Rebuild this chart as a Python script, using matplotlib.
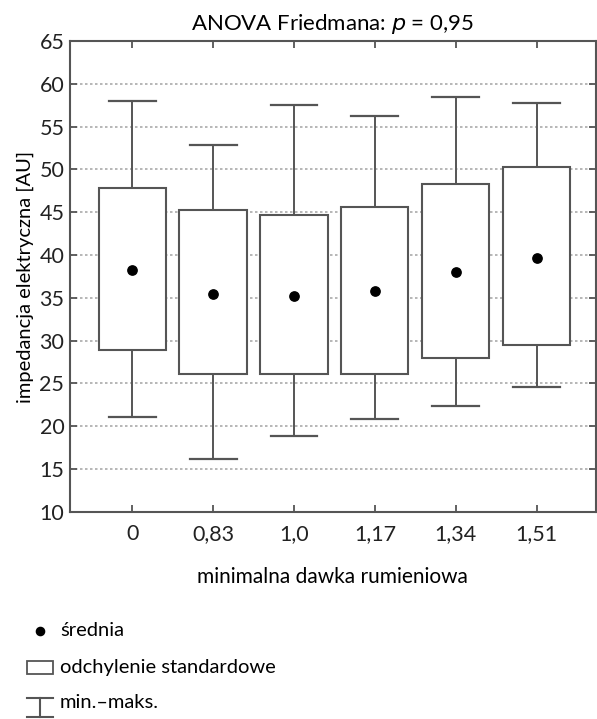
import matplotlib
matplotlib.use("Agg")
import matplotlib.pyplot as plt
from matplotlib.patches import Rectangle

plt.rcParams["font.family"] = ["Lato", "DejaVu Sans"]

# data
doses = ["0", "0,83", "1,0", "1,17", "1,34", "1,51"]
means = [38.2, 35.5, 35.2, 35.8, 38.0, 39.7]
sd_low = [28.9, 26.1, 26.1, 26.1, 28.0, 29.5]
sd_high = [47.8, 45.3, 44.7, 45.6, 48.3, 50.3]
mins = [21.1, 16.2, 18.9, 20.8, 22.4, 24.6]
maxs = [58.0, 52.8, 57.5, 56.2, 58.5, 57.7]

line_col = "#555555"
box_w = 0.83
cap_w = 0.58

fig = plt.figure(figsize=(5.97, 7.19), dpi=100)
ax = fig.add_axes([0.117, 0.288, 0.881, 0.655])

for i in range(len(doses)):
    # whiskers
    ax.plot([i, i], [sd_high[i], maxs[i]], color=line_col, lw=1.4, zorder=2)
    ax.plot([i, i], [mins[i], sd_low[i]], color=line_col, lw=1.4, zorder=2)
    ax.plot([i - cap_w / 2, i + cap_w / 2], [maxs[i], maxs[i]], color=line_col, lw=1.6, zorder=2)
    ax.plot([i - cap_w / 2, i + cap_w / 2], [mins[i], mins[i]], color=line_col, lw=1.6, zorder=2)
    # box
    ax.add_patch(Rectangle((i - box_w / 2, sd_low[i]), box_w, sd_high[i] - sd_low[i],
                           facecolor="white", edgecolor=line_col, lw=1.5, zorder=3))

ax.scatter(range(len(doses)), means, s=45, color="black", zorder=4)

ax.set_xlim(-0.77, 5.73)
ax.set_ylim(10, 65)
ax.set_yticks(range(10, 66, 5))
ax.set_xticks(range(len(doses)))
ax.set_xticklabels(doses)
ax.yaxis.grid(True, linestyle=(0, (1.5, 1.5)), color="#aaaaaa", lw=1.2, zorder=0)
ax.tick_params(direction="in", length=5, width=1.3, color=line_col,
               top=True, right=True, labelsize=15.5, labelcolor="#222222")
ax.tick_params(axis="x", pad=9)
ax.tick_params(axis="y", pad=4)
for s in ax.spines.values():
    s.set_color(line_col)
    s.set_linewidth(1.5)

ax.set_title("ANOVA Friedmana: $\\it{p}$ = 0,95", fontsize=16, pad=8)
ax.set_xlabel("minimalna dawka rumieniowa", fontsize=15, labelpad=16)
ax.set_ylabel("impedancja elektryczna [AU]", fontsize=14.5, labelpad=4)

# legend drawn below the chart
lax = fig.add_axes([0, 0, 1, 0.16])
lax.set_xlim(0, 597)
lax.set_ylim(0, 115)
lax.axis("off")
lax.scatter([40], [88], s=35, color="black")
lax.text(60, 88, "średnia", fontsize=14.5, va="center")
lax.add_patch(Rectangle((27, 45), 26, 13, facecolor="white", edgecolor=line_col, lw=1.3))
lax.text(60, 51, "odchylenie standardowe", fontsize=14.5, va="center")
lax.plot([27, 53], [21, 21], color=line_col, lw=1.5)
lax.plot([27, 53], [2, 2], color=line_col, lw=1.5)
lax.plot([40, 40], [2, 21], color=line_col, lw=1.5)
lax.text(60, 16, "min.–maks.", fontsize=14.5, va="center")

fig.savefig("out.png", dpi=100)
